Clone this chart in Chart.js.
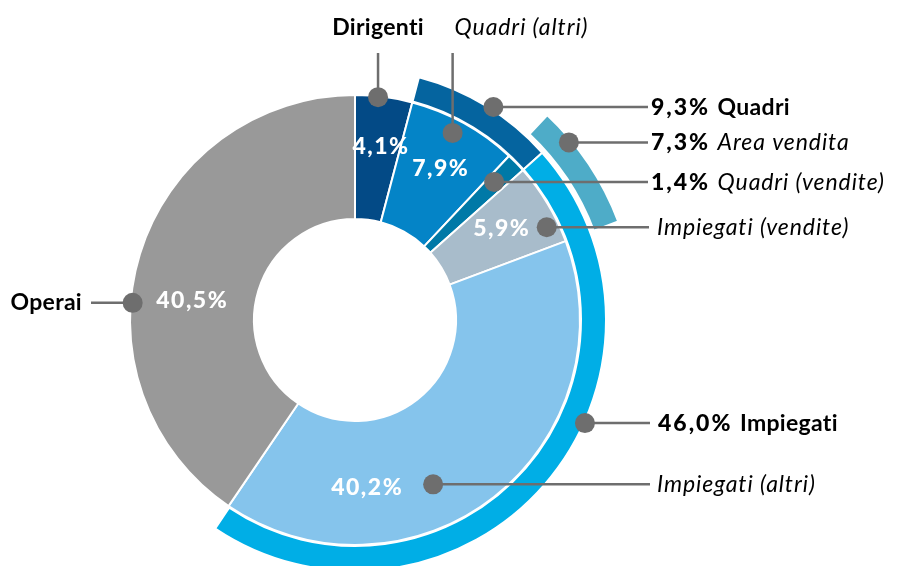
<!DOCTYPE html>
<html>
<head>
  <title>Composizione organico</title>
  <script src="https://cdn.jsdelivr.net/npm/chart.js"></script>
  <style>
    body {
      margin: 0;
      background-color: #FFFFFF;
    }

    .chart-container {
      width: 900px;
      height: 566px;
    }
  </style>
</head>
<body>
  <div class="chart-container">
    <canvas id="staffChart" width="900" height="566"></canvas>
  </div>

  <script>
    // inner ring: single groups
    const categories = ['Dirigenti', 'Quadri (altri)', 'Quadri (vendite)', 'Impiegati (vendite)', 'Impiegati (altri)', 'Operai'];
    const shares = [4.1, 7.9, 1.4, 5.9, 40.2, 40.5];

    // middle ring: totals by grade
    const groupLabels = ['Quadri', 'Impiegati'];
    const groupShares = [9.3, 46.0];

    // outer ring: sales area
    const salesLabel = 'Area vendita';
    const salesShare = 7.3;

    const innerColors = ['#034a86', '#0484c7', '#0079a7', '#a8bccb', '#85c4ec', '#999999'];
    const groupColors = ['#05649f', '#00aee6'];
    const salesColor = '#4eacc8';
    const clear = 'rgba(0,0,0,0)';
    const inkGrey = '#6e6e6e';
    const fontFamily = 'Lato, "Noto Sans", sans-serif';

    const fmt = (v) => v.toFixed(1).replace('.', ',') + '%';

    // gaps so the outer rings start where their groups start
    const groupStart = shares[0];
    const groupGapEnd = 100 - groupStart - groupShares[0] - groupShares[1];
    const salesStart = shares[0] + shares[1];
    const salesGapEnd = 100 - salesStart - salesShare;

    const arcPoint = (chart, ds, idx, frac, dr) => {
      const arc = chart.getDatasetMeta(ds).data[idx];
      const p = arc.getProps(['x', 'y', 'startAngle', 'endAngle', 'outerRadius'], true);
      const a = p.startAngle + frac * (p.endAngle - p.startAngle);
      const r = p.outerRadius + dr;
      return { x: p.x + r * Math.cos(a), y: p.y + r * Math.sin(a) };
    };

    const setFont = (ctx, part) => {
      if (part.pct) {
        ctx.font = '900 23px ' + fontFamily;
        ctx.letterSpacing = '2px';
        return;
      }
      ctx.font = (part.italic ? 'italic ' : '') + (part.bold ? 'bold ' : '') + '23px ' + fontFamily;
      ctx.letterSpacing = part.italic ? '0.9px' : '0.3px';
    };

    const drawParts = (ctx, parts, x, y, align) => {
      let total = 0;
      parts.forEach((part) => {
        setFont(ctx, part);
        total += ctx.measureText(part.text).width;
      });
      let cx = align === 'right' ? x - total : align === 'center' ? x - total / 2 : x;
      ctx.textAlign = 'left';
      ctx.textBaseline = 'alphabetic';
      ctx.fillStyle = '#000000';
      parts.forEach((part) => {
        setFont(ctx, part);
        ctx.fillText(part.text, cx, y);
        cx += ctx.measureText(part.text).width;
      });
    };

    // dataset indexes: 0 sales ring, 2 group ring, 4 inner ring
    const percentLabels = [
      { idx: 0, frac: 0.58, dr: -50 },
      { idx: 1, frac: 0.52, dr: -51 },
      { idx: 3, frac: 0.46, dr: -52 },
      { idx: 4, frac: 0.735, dr: -57 },
      { idx: 5, frac: 0.43, dr: -61 },
    ];

    const callouts = [
      { ds: 4, idx: 0, frac: 0.4, dr: -1, kind: 'up', parts: [{ text: categories[0], bold: true }], align: 'center', tx: 0 },
      { ds: 4, idx: 1, frac: 0.45, dr: -14, kind: 'up', parts: [{ text: categories[1], italic: true }], align: 'left', tx: 2 },
      { ds: 2, idx: 1, frac: 0.545, dr: 3, kind: 'right', end: 648, tx: 651, parts: [{ text: fmt(groupShares[0]) + ' ', pct: true }, { text: groupLabels[0], bold: true }] },
      { ds: 0, idx: 1, frac: 0.27, dr: -3, kind: 'right', end: 648, tx: 651, parts: [{ text: fmt(salesShare) + ' ', pct: true }, { text: salesLabel, italic: true }] },
      { ds: 4, idx: 2, frac: 0.4, dr: -29, kind: 'right', end: 648, tx: 651, parts: [{ text: fmt(shares[2]) + ' ', pct: true }, { text: categories[2], italic: true }] },
      { ds: 4, idx: 3, frac: 0.75, dr: -12, kind: 'right', end: 649, tx: 657, parts: [{ text: categories[3], italic: true }] },
      { ds: 2, idx: 2, frac: 0.398, dr: 1, kind: 'right', end: 650, tx: 658, parts: [{ text: fmt(groupShares[1]) + ' ', pct: true }, { text: groupLabels[1], bold: true }] },
      { ds: 4, idx: 4, frac: 0.588, dr: -43, kind: 'right', end: 650, tx: 657, parts: [{ text: categories[4], italic: true }] },
      { ds: 4, idx: 5, frac: 0.413, dr: -2, kind: 'left', end: 91, tx: 82, parts: [{ text: categories[5], bold: true }] },
    ];

    const labelPlugin = {
      id: 'staffLabels',
      afterDatasetsDraw(chart) {
        const ctx = chart.ctx;
        ctx.save();

        // white percentages inside the inner ring
        ctx.fillStyle = '#FFFFFF';
        ctx.font = '900 23px ' + fontFamily;
        ctx.letterSpacing = '1.5px';
        ctx.textAlign = 'center';
        ctx.textBaseline = 'middle';
        percentLabels.forEach((l) => {
          const p = arcPoint(chart, 4, l.idx, l.frac, l.dr);
          ctx.fillText(fmt(shares[l.idx]), p.x, p.y);
        });
        ctx.letterSpacing = '0px';

        // leader lines
        ctx.strokeStyle = inkGrey;
        ctx.lineWidth = 2.5;
        const points = callouts.map((c) => arcPoint(chart, c.ds, c.idx, c.frac, c.dr));
        callouts.forEach((c, i) => {
          const p = points[i];
          ctx.beginPath();
          ctx.moveTo(p.x, p.y);
          if (c.kind === 'up') {
            ctx.lineTo(p.x, 53);
          } else {
            ctx.lineTo(c.end, p.y);
          }
          ctx.stroke();
        });

        // dots
        ctx.fillStyle = inkGrey;
        points.forEach((p) => {
          ctx.beginPath();
          ctx.arc(p.x, p.y, 10, 0, Math.PI * 2);
          ctx.fill();
        });

        // texts
        callouts.forEach((c, i) => {
          const p = points[i];
          if (c.kind === 'up') {
            drawParts(ctx, c.parts, p.x + c.tx, 35, c.align);
          } else if (c.kind === 'left') {
            drawParts(ctx, c.parts, c.tx, p.y + 7, 'right');
          } else {
            drawParts(ctx, c.parts, c.tx, p.y + 8, 'left');
          }
        });

        ctx.restore();
      },
    };

    const ctx = document.getElementById('staffChart').getContext('2d');
    new Chart(ctx, {
      type: 'doughnut',
      data: {
        labels: categories,
        datasets: [
          {
            label: salesLabel,
            data: [salesStart, salesShare, salesGapEnd],
            backgroundColor: [clear, salesColor, clear],
            borderColor: '#FFFFFF',
            borderWidth: [0, 2, 0],
            weight: 26,
          },
          {
            label: 'gap',
            data: [100],
            backgroundColor: [clear],
            borderWidth: 0,
            weight: 4,
          },
          {
            label: 'Totali',
            data: [groupStart, groupShares[0], groupShares[1], groupGapEnd],
            backgroundColor: [clear, groupColors[0], groupColors[1], clear],
            borderColor: '#FFFFFF',
            borderWidth: [0, 2, 2, 0],
            weight: 25,
          },
          {
            label: 'gap',
            data: [100],
            backgroundColor: [clear],
            borderWidth: 0,
            weight: 1,
          },
          {
            label: 'Organico',
            data: shares,
            backgroundColor: innerColors,
            borderColor: '#FFFFFF',
            borderWidth: 2,
            weight: 124,
          },
        ],
      },
      options: {
        responsive: false,
        animation: false,
        radius: 281,
        cutout: '35.94%',
        layout: {
          padding: { left: 0, right: 190, top: 74, bottom: 0 },
        },
        plugins: {
          legend: { display: false },
          tooltip: { enabled: false },
        },
      },
      plugins: [labelPlugin],
    });
  </script>
</body>
</html>
